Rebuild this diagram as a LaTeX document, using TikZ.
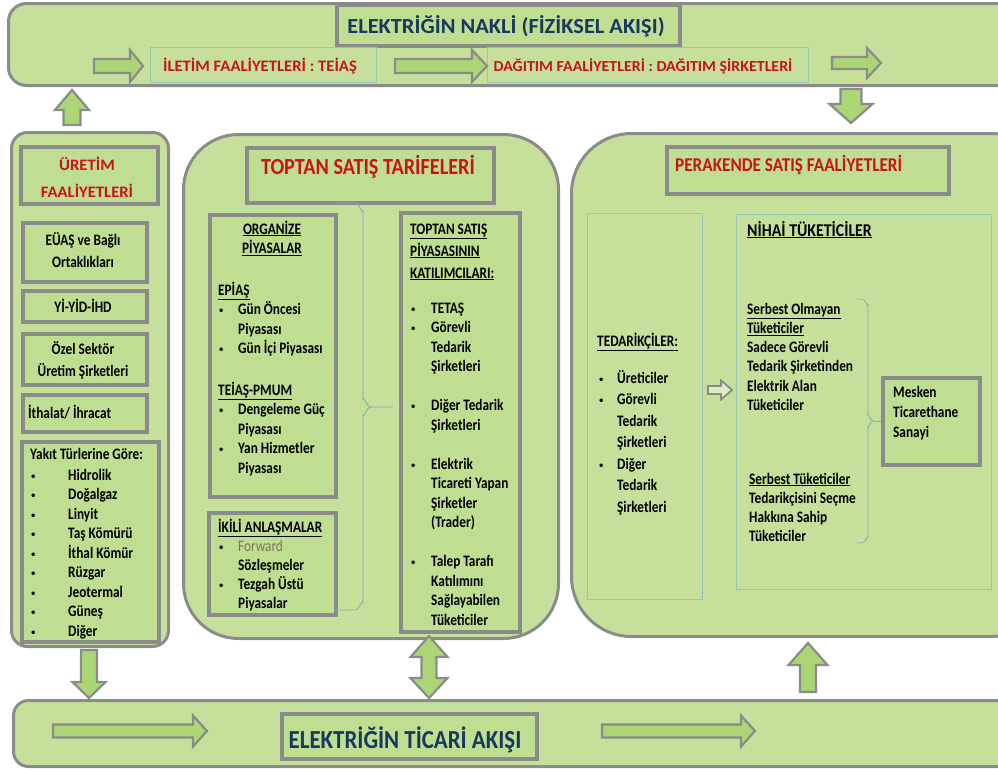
\documentclass[tikz,border=0pt]{standalone}
\usepackage{fontspec}
\setmainfont{Carlito}[FakeStretch=0.83]
\newfontfamily\widefont{Carlito}[FakeStretch=1.04]
\newfontfamily\midfont{Carlito}[FakeStretch=0.88]
\newfontfamily\bulfont{DejaVu Sans}
\definecolor{boxgreen}{RGB}{198,224,156}
\definecolor{innergreen}{RGB}{192,222,146}
\definecolor{arrowgreen}{RGB}{172,214,118}
\definecolor{edgegrey}{RGB}{138,140,138}
\definecolor{thinline}{RGB}{150,198,180}
\definecolor{titlered}{RGB}{200,18,28}
\definecolor{titleblue}{RGB}{24,56,96}
\definecolor{bracecol}{RGB}{125,170,185}
\definecolor{fwdcol}{RGB}{125,118,88}
\newcommand\bul[1]{\makebox[#1][l]{{\bulfont\fontsize{10}{10}\selectfont •}}}
\newcommand\harrow[6]{% yc, xtail, xbase, xtip, shaftw, headw
 \draw[blockarrow] ({#2},{#1-#5/2}) -- ({#3},{#1-#5/2}) -- ({#3},{#1-#6/2}) -- ({#4},{#1}) -- ({#3},{#1+#6/2}) -- ({#3},{#1+#5/2}) -- ({#2},{#1+#5/2}) -- cycle;}
\newcommand\varrow[6]{% xc, ytail, ybase, ytip, shaftw, headw
 \draw[blockarrow] ({#1-#5/2},{#2}) -- ({#1-#5/2},{#3}) -- ({#1-#6/2},{#3}) -- ({#1},{#4}) -- ({#1+#6/2},{#3}) -- ({#1+#5/2},{#3}) -- ({#1+#5/2},{#2}) -- cycle;}
\newcommand\dvarrow[7]{% xc, ytip1, ybase1, ybase2, ytip2, shaftw, headw
 \draw[blockarrow] ({#1},{#2}) -- ({#1+#7/2},{#3}) -- ({#1+#6/2},{#3}) -- ({#1+#6/2},{#4}) -- ({#1+#7/2},{#4}) -- ({#1},{#5}) -- ({#1-#7/2},{#4}) -- ({#1-#6/2},{#4}) -- ({#1-#6/2},{#3}) -- ({#1-#7/2},{#3}) -- cycle;}
\begin{document}
\begin{tikzpicture}[x=1pt,y=-1pt,
  outerbox/.style={draw=edgegrey, line width=3pt, fill=boxgreen, anchor=north west, inner sep=0pt},
  innerbox/.style={draw=edgegrey, line width=3.5pt, fill=innergreen, anchor=north west, inner sep=0pt},
  thinbox/.style={draw=thinline, line width=0.8pt, anchor=north west, inner sep=0pt},
  blockarrow/.style={draw=edgegrey, line width=2.2pt, fill=arrowgreen, line join=miter},
  bracestyle/.style={draw=bracecol, line width=0.8pt},
  txt/.style={font=\fontsize{16}{19.5}\selectfont\bfseries, inner sep=0pt, anchor=base west, text=black},
  redtitle/.style={inner sep=0pt, anchor=base, text=titlered},
  bluetitle/.style={inner sep=0pt, anchor=base, text=titleblue}]
\useasboundingbox (0,0) rectangle (998,769);
\clip (0,0) rectangle (998,769);
% ---------- top band ----------
\node[outerbox, rounded corners=18pt, minimum width=1010pt, minimum height=82pt] (fizband) at (7,2) {};
\node[innerbox, minimum width=343pt, minimum height=41pt] (fiztitlebox) at (335,3) {};
\node[bluetitle, font=\widefont\fontsize{21.5}{21.5}\selectfont\bfseries] (fiztitle) at (506,33.5) {ELEKTRİĞİN NAKLİ (FİZİKSEL AKIŞI)};
\node[thinbox, minimum width=226pt, minimum height=35pt] (iletimbox) at (150,47) {};
\node[thinbox, minimum width=321pt, minimum height=35pt] (dagitimbox) at (487,47) {};
\node[redtitle, font=\widefont\fontsize{16}{16}\selectfont\bfseries] (iletim) at (260,71) {İLETİM FAALİYETLERİ : TEİAŞ};
\node[redtitle, font=\widefont\fontsize{15.3}{15.3}\selectfont\bfseries] (dagitim) at (643,71) {DAĞITIM FAALİYETLERİ : DAĞITIM ŞİRKETLERİ};
\harrow{66}{94}{130}{143}{14}{32}
\harrow{66}{395}{472}{487}{14}{32}
\harrow{63}{832}{867}{881}{12}{30}
% ---------- left column ----------
\node[outerbox, rounded corners=16pt, minimum width=157pt, minimum height=514pt] (uretimcol) at (10,131) {};
\node[innerbox, minimum width=137pt, minimum height=57pt] (uretimtitlebox) at (19,145) {};
\node[redtitle, font=\widefont\fontsize{16}{27}\selectfont\bfseries] (uretimtitle) at (87,170) {\begin{tabular}[t]{@{}c@{}}ÜRETİM\\ FAALİYETLERİ\end{tabular}};
\node[innerbox, minimum width=124pt, minimum height=59pt] (euasbox) at (21,221) {};
\node[txt, anchor=base, font=\fontsize{16}{22}\selectfont\bfseries] (euas) at (83,245) {\begin{tabular}[t]{@{}c@{}}EÜAŞ ve Bağlı\\ Ortaklıkları\end{tabular}};
\node[innerbox, minimum width=124pt, minimum height=31pt] (yidbox) at (21,289) {};
\node[txt, anchor=base] (yid) at (83,312) {Yİ-YİD-İHD};
\node[innerbox, minimum width=124pt, minimum height=51pt] (ozelbox) at (21,332) {};
\node[txt, anchor=base, font=\fontsize{16}{22}\selectfont\bfseries] (ozel) at (83,354) {\begin{tabular}[t]{@{}c@{}}Özel Sektör\\ Üretim Şirketleri\end{tabular}};
\node[innerbox, minimum width=124pt, minimum height=37pt] (ithalatbox) at (21,393) {};
\node[txt] (ithalat) at (28,418) {İthalat/ İhracat};
\node[innerbox, minimum width=137pt, minimum height=200pt] (yakitbox) at (20,440) {};
\node[txt] (yakit) at (30,459) {Yakıt Türlerine Göre:};
\node[txt] (yakitlist) at (30,480) {\begin{tabular}[t]{@{}l@{}}
\bul{38pt}Hidrolik\\ \bul{38pt}Doğalgaz\\ \bul{38pt}Linyit\\ \bul{38pt}Taş Kömürü\\ \bul{38pt}İthal Kömür\\
\bul{38pt}Rüzgar\\ \bul{38pt}Jeotermal\\ \bul{38pt}Güneş\\ \bul{38pt}Diğer\end{tabular}};
% ---------- middle column ----------
\node[outerbox, rounded corners=55pt, minimum width=375pt, minimum height=504pt] (toptancol) at (182,133) {};
\node[innerbox, minimum width=247pt, minimum height=55pt] (toptantitlebox) at (245,146) {};
\node[redtitle, font=\midfont\fontsize{23}{23}\selectfont\bfseries] (toptantitle) at (368,174) {TOPTAN SATIŞ TARİFELERİ};
\node[innerbox, minimum width=126pt, minimum height=282pt] (organizebox) at (208,213) {};
\node[innerbox, minimum width=127pt, minimum height=102pt] (ikilibox) at (207,511) {};
\node[innerbox, minimum width=119pt, minimum height=419pt] (katilimbox) at (399,211) {};
\node[txt, anchor=base] (organize) at (272,234) {\begin{tabular}[t]{@{}c@{}}\underline{ORGANİZE}\\ \underline{PİYASALAR}\end{tabular}};
\node[txt] (epias) at (218,295) {\begin{tabular}[t]{@{}l@{}}\underline{EPİAŞ}\\ \bul{20pt}Gün Öncesi\\ \hspace*{20pt}Piyasası\\ \bul{20pt}Gün İçi Piyasası\end{tabular}};
\node[txt] (pmum) at (218,395) {\begin{tabular}[t]{@{}l@{}}\underline{TEİAŞ-PMUM}\\ \bul{20pt}Dengeleme Güç\\ \hspace*{20pt}Piyasası\\ \bul{20pt}Yan Hizmetler\\ \hspace*{20pt}Piyasası\end{tabular}};
\node[txt, font=\fontsize{16}{19}\selectfont\bfseries] (ikili) at (218,532) {\begin{tabular}[t]{@{}l@{}}\underline{İKİLİ ANLAŞMALAR}\\ \bul{20pt}\textcolor{fwdcol}{\mdseries Forward}\\ \hspace*{20pt}Sözleşmeler\\ \bul{20pt}Tezgah Üstü\\ \hspace*{20pt}Piyasalar\end{tabular}};
\node[txt] (katilim) at (410,234) {\begin{tabular}[t]{@{}l@{}}\underline{TOPTAN SATIŞ}\\[2.5pt] \underline{PİYASASININ}\\[2.5pt] \underline{KATILIMCILARI:}\\[15.5pt]
\bul{21pt}TETAŞ\\ \bul{21pt}Görevli\\ \hspace*{21pt}Tedarik\\ \hspace*{21pt}Şirketleri\\ \\
\bul{21pt}Diğer Tedarik\\ \hspace*{21pt}Şirketleri\\ \\
\bul{21pt}Elektrik\\ \hspace*{21pt}Ticareti Yapan\\ \hspace*{21pt}Şirketler\\ \hspace*{21pt}(Trader)\\ \\
\bul{21pt}Talep Tarafı\\ \hspace*{21pt}Katılımını\\ \hspace*{21pt}Sağlayabilen\\ \hspace*{21pt}Tüketiciler\end{tabular}};
\coordinate (bracetip) at (393,407);
\path[bracestyle] (335,203) -- (355,203) to[out=0,in=-90] (363,211) -- (363,399) to[out=90,in=180] (371,407) -- (bracetip);
\path[bracestyle] (371,407) to[out=180,in=-90] (363,415) -- (363,602) to[out=90,in=0] (355,610) -- (335,610);
% ---------- right column ----------
\node[outerbox, rounded corners=60pt, minimum width=480pt, minimum height=503pt] (perakendecol) at (570,132) {};
\node[innerbox, minimum width=282pt, minimum height=47pt] (perakendetitlebox) at (665,145) {};
\node[redtitle, anchor=base west, font=\midfont\fontsize{19.5}{19.5}\selectfont\bfseries] (perakendetitle) at (675,171) {PERAKENDE SATIŞ FAALİYETLERİ};
\node[thinbox, minimum width=115pt, minimum height=386pt] (tedarikbox) at (587,213) {};
\node[thinbox, minimum width=255pt, minimum height=375pt] (nihaibox) at (736,214) {};
\node[txt] (tedarikciler) at (597,346) {\underline{TEDARİKÇİLER:}};
\node[txt, font=\fontsize{16}{21.5}\selectfont\bfseries] (tedlist) at (598,383) {\begin{tabular}[t]{@{}l@{}}\bul{19pt}Üreticiler\\ \bul{19pt}Görevli\\ \hspace*{19pt}Tedarik\\ \hspace*{19pt}Şirketleri\\ \bul{19pt}Diğer\\ \hspace*{19pt}Tedarik\\ \hspace*{19pt}Şirketleri\end{tabular}};
\begin{scope}[blockarrow/.append style={line width=1.8pt, fill=boxgreen!60!white}]
\harrow{390}{708}{721}{732}{8}{19}
\end{scope}
\node[txt, font=\midfont\fontsize{18}{18}\selectfont\bfseries] (nihai) at (747,236) {\underline{NİHAİ TÜKETİCİLER}};
\node[txt, font=\fontsize{16}{19.3}\selectfont\bfseries] (serbestol) at (747,314) {\begin{tabular}[t]{@{}l@{}}\underline{Serbest Olmayan}\\ \underline{Tüketiciler}\\ Sadece Görevli\\ Tedarik Şirketinden\\ Elektrik Alan\\ Tüketiciler\end{tabular}};
\node[txt, font=\fontsize{16}{19.3}\selectfont\bfseries] (serbest) at (749,484) {\begin{tabular}[t]{@{}l@{}}\underline{Serbest Tüketiciler}\\ Tedarikçisini Seçme\\ Hakkına Sahip\\ Tüketiciler\end{tabular}};
\node[innerbox, line width=4pt, minimum width=97pt, minimum height=87pt] (meskenbox) at (881,376) {};
\node[txt, font=\fontsize{16}{20}\selectfont\bfseries] (mesken) at (893,397) {\begin{tabular}[t]{@{}l@{}}Mesken\\ Ticarethane\\ Sanayi\end{tabular}};
\path[bracestyle] (857,299) -- (862,299) to[out=0,in=-90] (868,305) -- (868,415) to[out=90,in=180] (873,421) -- (meskenbox.west);
\path[bracestyle] (873,421) to[out=180,in=-90] (868,427) -- (868,537) to[out=90,in=0] (862,543) -- (857,543);
% ---------- bottom band ----------
\node[outerbox, rounded corners=15pt, minimum width=1010pt, minimum height=66pt] (ticariband) at (12,699) {};
\node[innerbox, minimum width=255pt, minimum height=45pt] (ticarititlebox) at (280,712) {};
\node[bluetitle, font=\midfont\fontsize{26}{26}\selectfont\bfseries] (ticarititle) at (405,748) {ELEKTRİĞİN TİCARİ AKIŞI};
\harrow{731}{53}{193}{207}{13}{31}
\harrow{731}{602}{741}{755}{13}{31}
% ---------- vertical arrows ----------
\varrow{72}{125}{110}{90}{17}{34}
\varrow{851}{89}{104}{123}{21}{43}
\varrow{89}{650}{682}{698}{16}{33}
\dvarrow{429}{636}{657}{678}{698}{15}{37}
\varrow{808}{692}{665}{643}{16}{39}
\end{tikzpicture}
\end{document}
